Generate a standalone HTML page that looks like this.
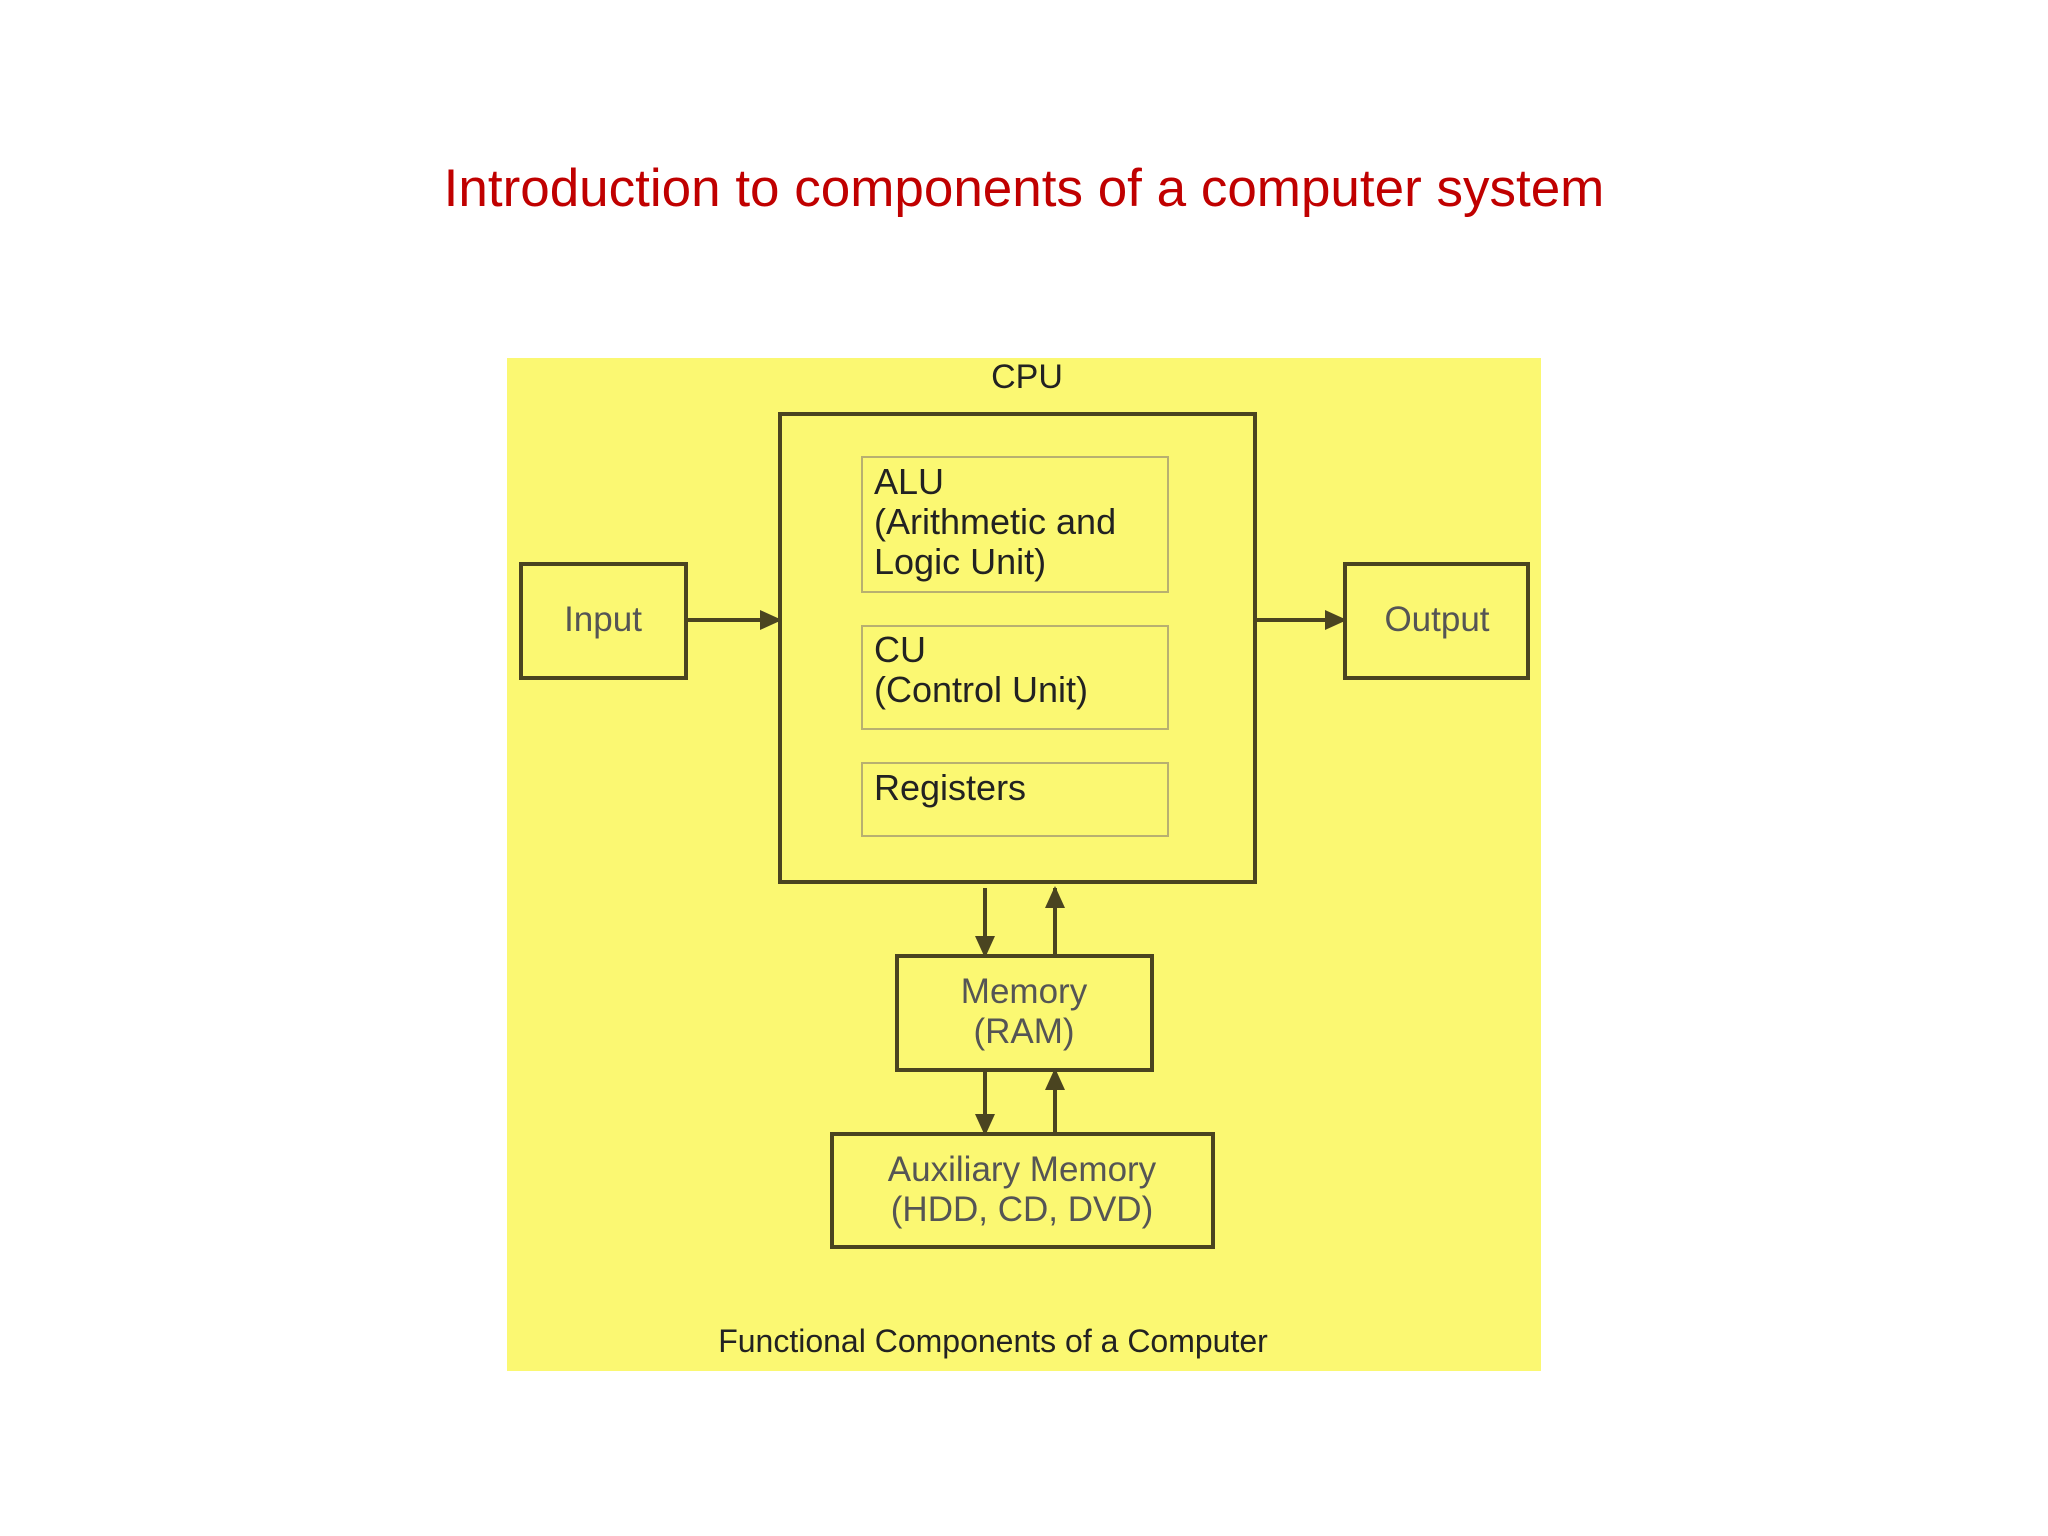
<!DOCTYPE html>
<html><head><meta charset="utf-8"><style>
html,body{margin:0;padding:0;background:#fff;}
body{width:2048px;height:1536px;position:relative;overflow:hidden;font-family:"Liberation Sans",sans-serif;}
.t{position:absolute;white-space:nowrap;}
</style></head><body>
<div class="t" style="left:0;width:2048px;text-align:center;top:158px;font-size:53px;color:#c00000;">Introduction to components of a computer system</div>
<svg width="2048" height="1536" style="position:absolute;left:0;top:0">
<defs><marker id="b" markerWidth="22" markerHeight="20" refX="20" refY="10" orient="auto" markerUnits="userSpaceOnUse"><path d="M0,0 L22,10 L0,20Z" fill="#4a4420"/></marker></defs>
<rect x="507" y="358" width="1034" height="1013" fill="#fbf872"/>
<g fill="none" stroke="#4a4420" stroke-width="4">
<rect x="780" y="414" width="475" height="468"/>
<rect x="521" y="564" width="165" height="114"/>
<rect x="1345" y="564" width="183" height="114"/>
<rect x="897" y="956" width="255" height="114"/>
<rect x="832" y="1134" width="381" height="113"/>
</g>
<g fill="none" stroke="#b8b070" stroke-width="2">
<rect x="862" y="457" width="306" height="135"/>
<rect x="862" y="626" width="306" height="103"/>
<rect x="862" y="763" width="306" height="73"/>
</g>
<g stroke="#4a4420" stroke-width="4" marker-end="url(#b)">
<line x1="686" y1="620" x2="780" y2="620"/>
<line x1="1255" y1="620" x2="1345" y2="620"/>
<line x1="985" y1="888" x2="985" y2="956"/>
<line x1="1055" y1="956" x2="1055" y2="888"/>
<line x1="985" y1="1070" x2="985" y2="1134"/>
<line x1="1055" y1="1134" x2="1055" y2="1070"/>
</g>
</svg>
<div class="t" style="left:1027px;top:358px;transform:translateX(-50%);font-size:34px;color:#222;">CPU</div>
<div class="t" style="left:874px;top:462px;font-size:36px;line-height:40px;color:#222;">ALU<br>(Arithmetic and<br>Logic Unit)</div>
<div class="t" style="left:874px;top:630px;font-size:36px;line-height:40px;color:#222;">CU<br>(Control Unit)</div>
<div class="t" style="left:874px;top:768px;font-size:36px;line-height:40px;color:#222;">Registers</div>
<div class="t" style="left:603px;top:600px;transform:translateX(-50%);font-size:35px;color:#555;">Input</div>
<div class="t" style="left:1437px;top:600px;transform:translateX(-50%);font-size:35px;color:#555;">Output</div>
<div class="t" style="left:1024px;top:972px;transform:translateX(-50%);font-size:35px;line-height:40px;color:#555;text-align:center;">Memory<br>(RAM)</div>
<div class="t" style="left:1022px;top:1150px;transform:translateX(-50%);font-size:35px;line-height:40px;color:#555;text-align:center;">Auxiliary Memory<br>(HDD, CD, DVD)</div>
<div class="t" style="left:993px;top:1323px;transform:translateX(-50%);font-size:32px;color:#222;">Functional Components of a Computer</div>
</body></html>
